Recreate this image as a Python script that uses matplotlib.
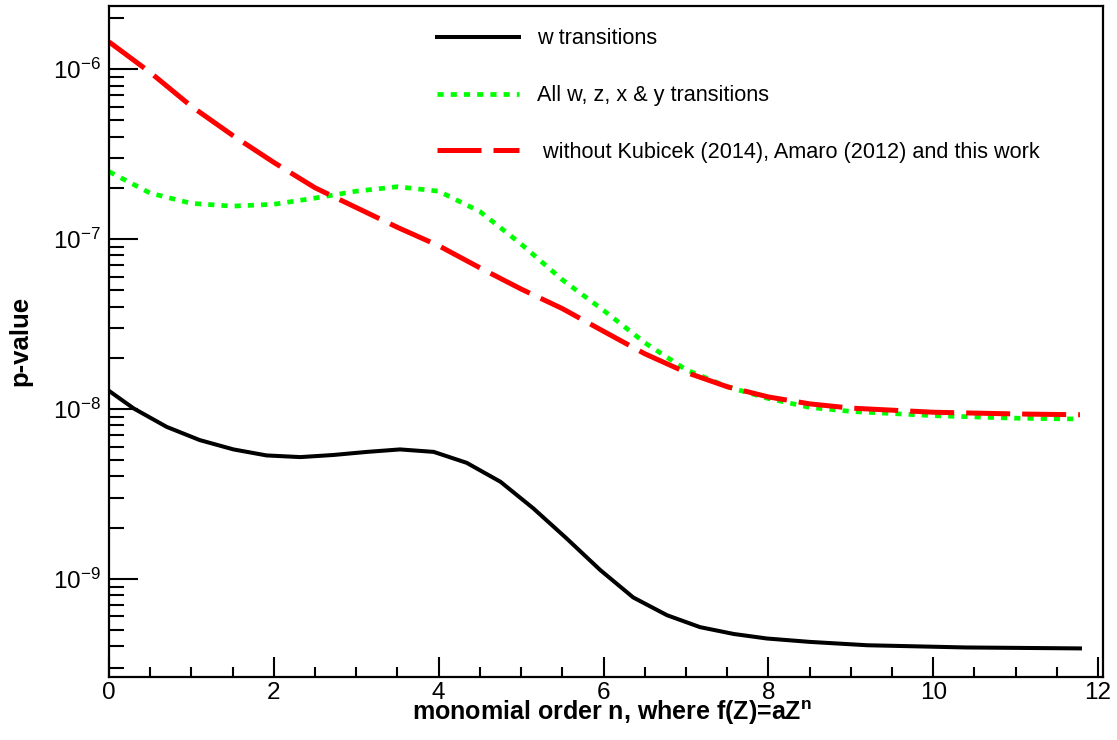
import numpy as np
import matplotlib
matplotlib.use("Agg")
import matplotlib.pyplot as plt
from matplotlib.ticker import MultipleLocator, LogLocator, LogFormatterSciNotation, NullFormatter

plt.rcParams['font.family'] = ['Liberation Sans', 'DejaVu Sans']
plt.rcParams['mathtext.fontset'] = 'custom'
plt.rcParams['mathtext.rm'] = 'Liberation Sans'
plt.rcParams['mathtext.it'] = 'Liberation Sans:italic'
plt.rcParams['mathtext.bf'] = 'Liberation Sans:bold'

# monomial order n, w transitions (read more densely, the curve bends a lot)
n_w = [0, 0.3, 0.7, 1.1, 1.51, 1.91, 2.32, 2.72, 3.13, 3.53, 3.94, 4.34, 4.75,
       5.15, 5.55, 5.96, 6.36, 6.77, 7.17, 7.58, 7.98, 8.5, 9.2, 10.4, 11.78]
p_w = [1.276e-8, 1.005e-8, 7.83e-9, 6.55e-9, 5.77e-9, 5.32e-9, 5.20e-9, 5.35e-9,
       5.58e-9, 5.77e-9, 5.58e-9, 4.81e-9, 3.72e-9, 2.59e-9, 1.73e-9, 1.125e-9,
       7.76e-10, 6.10e-10, 5.19e-10, 4.73e-10, 4.45e-10, 4.25e-10, 4.06e-10,
       3.94e-10, 3.89e-10]

# monomial order n for the other two fits
n_order = [0, 0.5, 1.0, 1.5, 2.0, 2.5, 3.0, 3.5, 4.0, 4.5, 5.0, 5.5,
           6.0, 6.5, 7.0, 7.5, 8.0, 8.5, 9.0, 10.0, 11.0, 11.78]
p_all = [2.49e-7, 1.86e-7, 1.62e-7, 1.56e-7, 1.60e-7, 1.74e-7, 1.91e-7, 2.03e-7,
         1.91e-7, 1.45e-7, 9.33e-8, 5.75e-8, 3.80e-8, 2.45e-8, 1.70e-8, 1.35e-8,
         1.15e-8, 1.02e-8, 9.66e-9, 9.12e-9, 8.81e-9, 8.71e-9]
p_without = [1.445e-6, 9.55e-7, 6.03e-7, 4.07e-7, 2.82e-7, 2.00e-7, 1.53e-7, 1.17e-7,
             9.12e-8, 6.76e-8, 5.07e-8, 3.89e-8, 2.86e-8, 2.11e-8, 1.64e-8, 1.35e-8,
             1.175e-8, 1.07e-8, 1.01e-8, 9.55e-9, 9.33e-9, 9.23e-9]

labels = ["w transitions", "All w, z, x & y transitions",
          " without Kubicek (2014), Amaro (2012) and this work"]

fig = plt.figure(figsize=(11.17, 7.40), dpi=100)
ax = fig.add_axes([0.0976, 0.0855, 0.8899, 0.9068])

ax.plot(n_w, p_w, color='black', lw=2.9, solid_joinstyle='round', label=labels[0])
ax.plot(n_order, p_all, color='#00ff00', lw=3.4, dashes=(1.3, 1.5),
        dash_capstyle='butt', label=labels[1])
ax.plot(n_order, p_without, color='#ff0000', lw=3.6, dashes=(8.8, 2.4),
        dash_capstyle='butt', dash_joinstyle='round', label=labels[2])

ax.set_yscale('log')
ax.set_xlim(0, 12.06)
ax.set_ylim(2.65e-10, 2.36e-6)

ax.xaxis.set_major_locator(MultipleLocator(2))
ax.xaxis.set_minor_locator(MultipleLocator(0.5))
ax.yaxis.set_major_locator(LogLocator(base=10))
ax.yaxis.set_minor_locator(LogLocator(base=10, subs=np.arange(2, 10)))
ax.yaxis.set_major_formatter(LogFormatterSciNotation())
ax.yaxis.set_minor_formatter(NullFormatter())

ax.tick_params(axis='both', which='both', direction='in', width=1.5,
               labelsize=17.5, right=False, top=False)
ax.tick_params(axis='y', which='major', length=21, pad=6)
ax.tick_params(axis='y', which='minor', length=11)
ax.tick_params(axis='x', which='major', length=14.5, pad=4)
ax.tick_params(axis='x', which='minor', length=7.2)
for s in ax.spines.values():
    s.set_linewidth(1.6)

ax.set_xlabel(r'monomial order n, where f(Z)=aZ$^{\mathbf{n}}$',
              fontsize=18, fontweight='bold', va='top')
ax.xaxis.set_label_coords(0.506, -0.032)
ax.set_ylabel('p-value', fontsize=18.5, fontweight='bold', va='center')
ax.yaxis.set_label_coords(-0.0895, 0.5)

ax.legend(loc='upper left', bbox_to_anchor=(437 / 1117, 1 - 28.5 / 740),
          bbox_transform=fig.transFigure, frameon=False, fontsize=15.6,
          handlelength=3.8, handletextpad=0.83, labelspacing=1.65,
          borderpad=0, borderaxespad=0)

fig.savefig('out.png', dpi=100)
